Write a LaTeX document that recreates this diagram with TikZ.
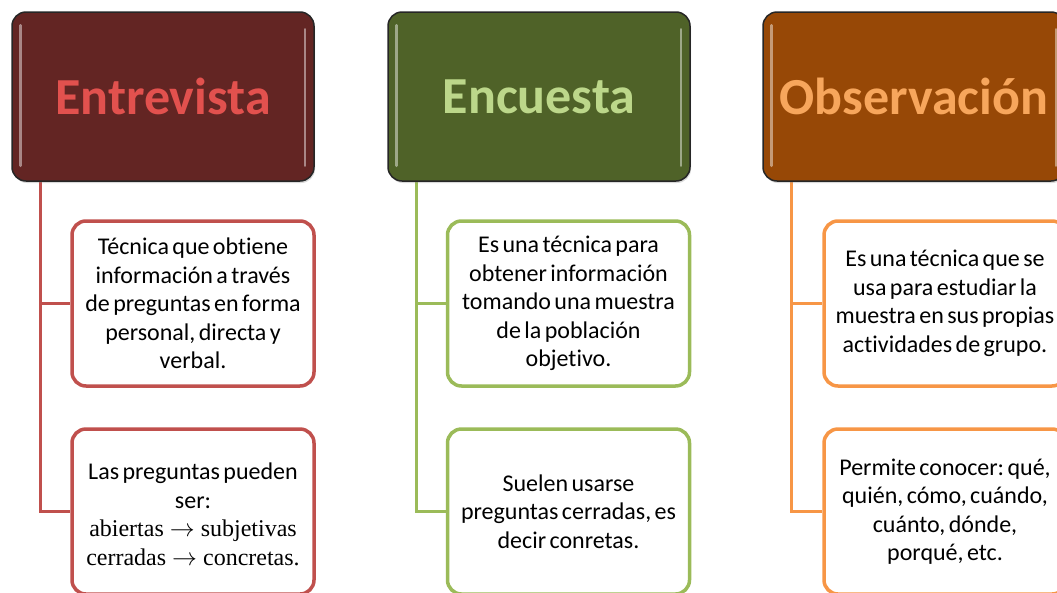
\documentclass[tikz,border=0pt]{standalone}
\usepackage{fontspec}
\setmainfont{Carlito}[Ligatures=NoCommon]
\newfontfamily\headfont{Carlito}[Ligatures=NoCommon]
\newfontfamily\serifcam{Liberation Serif}
\usetikzlibrary{shadows,backgrounds}
\definecolor{hdrE}{HTML}{632523}
\definecolor{hdrN}{HTML}{4F6228}
\definecolor{hdrO}{HTML}{974806}
\definecolor{txtE}{HTML}{E2514E}
\definecolor{txtN}{HTML}{BCD78A}
\definecolor{txtO}{HTML}{F7A65C}
\definecolor{accE}{HTML}{C0504D}
\definecolor{accN}{HTML}{9BBB59}
\definecolor{accO}{HTML}{F79646}
\begin{document}
\begin{tikzpicture}[x=1pt,y=-1pt,
  header/.style={rectangle, rounded corners=14pt, draw=black!85, line width=1.5pt,
    minimum width=302pt, minimum height=169pt, inner sep=0pt,
    font=\headfont\fontsize{52}{60}\selectfont\bfseries,
    drop shadow={shadow xshift=1pt, shadow yshift=-2pt, opacity=0.3}},
  childbox/.style={rectangle, rounded corners=14pt, line width=3.5pt, fill=white,
    minimum width=242pt, minimum height=165pt, text width=236pt, align=center,
    inner sep=0pt, font=\fontsize{24}{28.5}\selectfont, text=black,
    execute at begin node={\spaceskip=3.4pt\relax\xspaceskip=3.4pt\relax}},
  gloss/.style={line width=2.5pt, white, opacity=0.45, line cap=round},
  conn/.style={line width=3.5pt, line join=miter}
]
\useasboundingbox (0,0) rectangle (1057,592);
\clip (0,0) rectangle (1057,592);

% headers
\node[header, fill=hdrE, text=txtE] (hE) at (163,96.5) {Entrevista};
\node[header, fill=hdrN, text=txtN] (hN) at (539,96.5) {Encuesta};
\node[header, fill=hdrO, text=txtO] (hO) at (914,96.5) {Observación};

% glossy highlights
\foreach \h in {hE,hN,hO}{
  \draw[gloss] ([xshift=9pt,yshift=-14pt]\h.north west) -- ([xshift=9pt,yshift=16pt]\h.south west);
  \draw[gloss] ([xshift=-10pt,yshift=-18pt]\h.north east) -- ([xshift=-10pt,yshift=16pt]\h.south east);
}

% children
\node[childbox, draw=accE] (cE1) at (193,303.5) {Técnica que obtiene\\información a través\\de preguntas en forma\\personal, directa y\\verbal.};
\node[childbox, draw=accE] (cE2) at (193,511.5) {\rule{0pt}{22pt}Las preguntas pueden\\ser:\\{\serifcam\fontsize{24}{28.5}\selectfont\spaceskip=6pt\relax abiertas $\rightarrow$ subjetivas}\\{\serifcam\fontsize{24}{28.5}\selectfont\spaceskip=6pt\relax cerradas $\rightarrow$ concretas.}};
\node[childbox, draw=accN] (cN1) at (568.5,303.5) {Es una técnica para\\obtener información\\tomando una muestra\\de la población\\objetivo.};
\node[childbox, draw=accN] (cN2) at (568.5,511.5) {Suelen usarse\\preguntas cerradas, es\\decir conretas.};
\node[childbox, draw=accO] (cO1) at (945,303.5) {Es una técnica que se\\usa para estudiar la\\muestra en sus propias\\actividades de grupo.};
\node[childbox, draw=accO] (cO2) at (945,511.5) {Permite conocer: qué,\\quién, cómo, cuándo,\\cuánto, dónde,\\porqué, etc.};

% connectors
\begin{pgfonlayer}{background}
\draw[conn, accE] ([xshift=29pt]hE.south west) |- (cE1.west);
\draw[conn, accE] ([xshift=29pt]hE.south west) |- (cE2.west);
\draw[conn, accN] ([xshift=29pt]hN.south west) |- (cN1.west);
\draw[conn, accN] ([xshift=29pt]hN.south west) |- (cN2.west);
\draw[conn, accO] ([xshift=29pt]hO.south west) |- (cO1.west);
\draw[conn, accO] ([xshift=29pt]hO.south west) |- (cO2.west);
\end{pgfonlayer}
\end{tikzpicture}
\end{document}
